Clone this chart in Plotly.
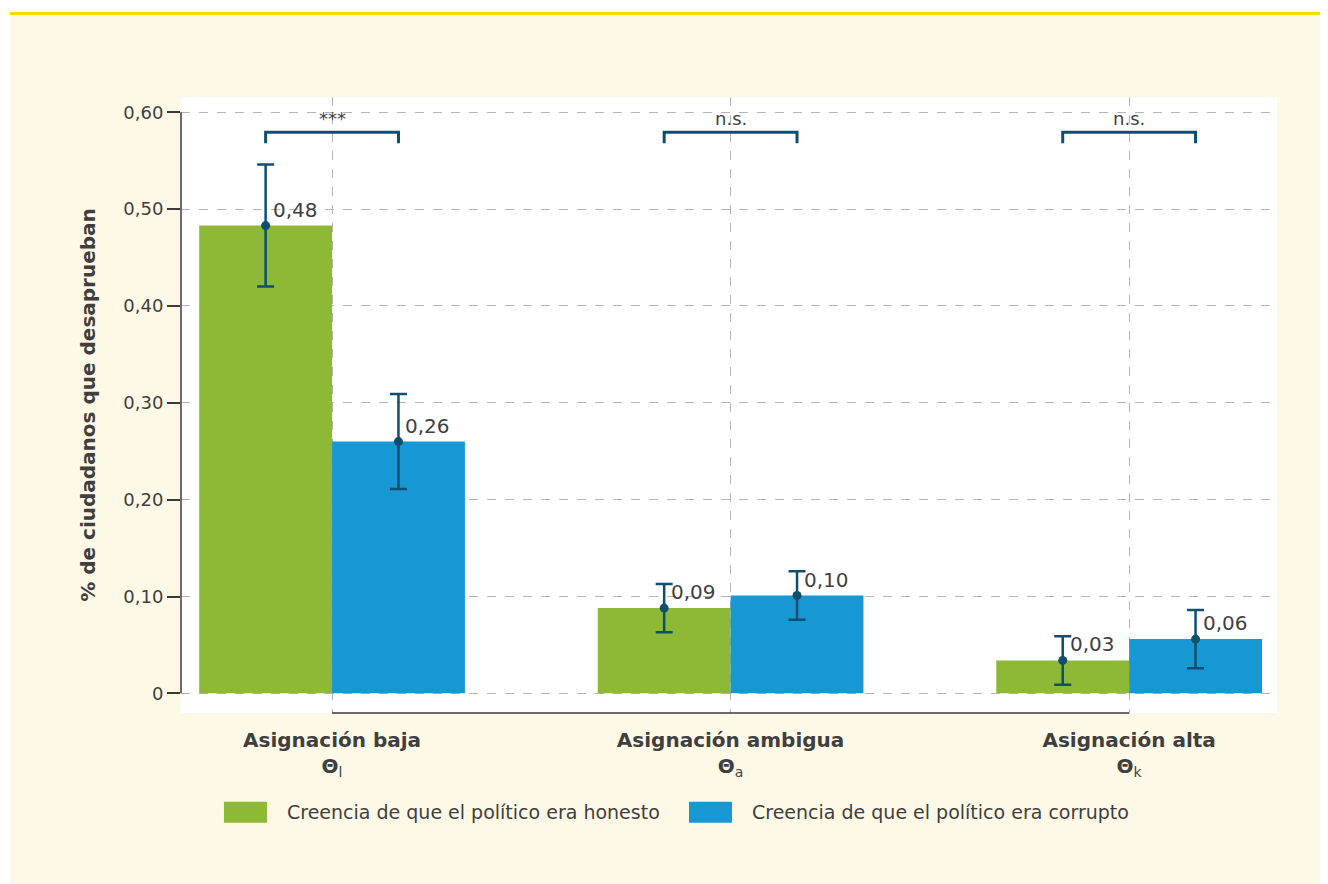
import plotly.graph_objects as go

# ---- data ----
categories = ["Asignación baja", "Asignación ambigua", "Asignación alta"]
theta_subscripts = ["l", "a", "k"]
series_names = ["Creencia de que el político era honesto",
                "Creencia de que el político era corrupto"]
honesto = [0.483, 0.088, 0.034]
corrupto = [0.260, 0.101, 0.056]
err_honesto = [0.063, 0.025, 0.025]
err_corrupto = [0.049, 0.025, 0.030]
labels_honesto = ["0,48", "0,09", "0,03"]
labels_corrupto = ["0,26", "0,10", "0,06"]
significance = ["***", "n.s.", "n.s."]
y_ticks = [0, 0.1, 0.2, 0.3, 0.4, 0.5, 0.6]
y_ticktext = ["0", "0,10", "0,20", "0,30", "0,40", "0,50", "0,60"]

# ---- style ----
GREEN = "#8DB936"
BLUE = "#1897D5"
DARK = "#0E4F70"
TEXT = "#3F3F3F"
CREAM = "#FEF8E6"
YELLOW = "#FDD900"
FONT = "DejaVu Sans"

idx = list(range(len(categories)))
half = 1 / 6
x_h = [i - half for i in idx]
x_c = [i + half for i in idx]

fig = go.Figure()
fig.add_trace(go.Bar(x=idx, y=honesto, name=series_names[0], marker_color=GREEN,
                     marker_line_width=0, showlegend=False, hoverinfo="skip"))
fig.add_trace(go.Bar(x=idx, y=corrupto, name=series_names[1], marker_color=BLUE,
                     marker_line_width=0, showlegend=False, hoverinfo="skip"))

annotations = []
for xs, ys, errs, labs in [(x_h, honesto, err_honesto, labels_honesto),
                           (x_c, corrupto, err_corrupto, labels_corrupto)]:
    fig.add_trace(go.Scatter(
        x=xs, y=ys, mode="markers",
        marker=dict(size=9, color=DARK),
        error_y=dict(type="data", array=errs, color=DARK, thickness=2.5, width=8.5),
        showlegend=False, hoverinfo="skip", cliponaxis=False))
    for xv, yv, lab in zip(xs, ys, labs):
        annotations.append(dict(x=xv, y=yv, text=lab, showarrow=False, xref="x", yref="y",
                                xanchor="left", yanchor="middle", xshift=5, yshift=16,
                                font=dict(family=FONT, size=20, color=TEXT)))

shapes = []
# background decorations (margins only)
shapes.append(dict(type="rect", xref="paper", yref="paper", x0=-0.3, x1=1.2,
                   y0=1.138, y1=1.3, fillcolor="white", line_width=0, layer="below"))
shapes.append(dict(type="rect", xref="paper", yref="paper", x0=-0.3, x1=-0.156,
                   y0=-0.4, y1=1.3, fillcolor="white", line_width=0, layer="below"))
shapes.append(dict(type="rect", xref="paper", yref="paper", x0=-0.156, x1=1.2,
                   y0=1.1331, y1=1.138, fillcolor=YELLOW, line_width=0, layer="below"))
# y axis line from 0 to 0.6
shapes.append(dict(type="line", xref="paper", yref="y", x0=0, x1=0,
                   y0=y_ticks[0], y1=y_ticks[-1], line=dict(color="#3A3A3A", width=1.5)))
# x axis line between first and last category
shapes.append(dict(type="line", xref="x", yref="paper", x0=idx[0], x1=idx[-1],
                   y0=0, y1=0, line=dict(color="#3A3A3A", width=1.5)))
# significance brackets
for i in idx:
    shapes.append(dict(type="path",
                       path=f"M {i-half},0.568 L {i-half},0.5794 L {i+half},0.5794 L {i+half},0.568",
                       line=dict(color=DARK, width=3), xref="x", yref="y"))

for i, s in zip(idx, significance):
    annotations.append(dict(x=i, y=0.594, text=s, showarrow=False, xref="x", yref="y",
                            yanchor="middle", font=dict(family=FONT, size=18, color=TEXT)))

# custom legend
legend_items = [(series_names[0], GREEN, 0.0392, 0.0785, 0.0947),
                (series_names[1], BLUE, 0.4635, 0.5027, 0.5189)]
for name, col, sx0, sx1, tx in legend_items:
    shapes.append(dict(type="rect", xref="paper", yref="paper", x0=sx0, x1=sx1,
                       y0=-0.178, y1=-0.144, fillcolor=col, line_width=0))
    annotations.append(dict(x=tx, y=-0.161, xref="paper", yref="paper", text=name,
                            showarrow=False, xanchor="left", yanchor="middle",
                            font=dict(family=FONT, size=19, color=TEXT)))

ticktext = [f"<b>{c}</b><br><b>Θ</b><sub>{s}</sub>" for c, s in zip(categories, theta_subscripts)]

fig.update_layout(
    width=1320, height=876,
    margin=dict(l=173, r=51, t=89, b=171),
    paper_bgcolor=CREAM, plot_bgcolor="white",
    barmode="group", bargap=1/3, bargroupgap=0,
    font=dict(family=FONT, color=TEXT),
    shapes=shapes, annotations=annotations,
    xaxis=dict(range=[-0.379, 2.371], tickvals=idx, ticktext=ticktext,
               showgrid=True, gridcolor="#B5B5B5", griddash="dash", gridwidth=1,
               zeroline=False, showline=False, ticks="", ticklabelstandoff=13,
               tickfont=dict(family=FONT, size=20, color=TEXT)),
    yaxis=dict(range=[-0.0203, 0.6158], tickvals=y_ticks, ticktext=y_ticktext,
               showgrid=True, gridcolor="#B5B5B5", griddash="dash", gridwidth=1,
               zeroline=False, showline=False, ticks="outside", ticklen=13,
               tickcolor="#3A3A3A", tickwidth=1.5,
               tickfont=dict(family=FONT, size=18, color=TEXT),
               title=dict(text="<b>% de ciudadanos que desaprueban</b>", standoff=22,
                          font=dict(family=FONT, size=20, color=TEXT))),
)

fig.write_html("out.html")
